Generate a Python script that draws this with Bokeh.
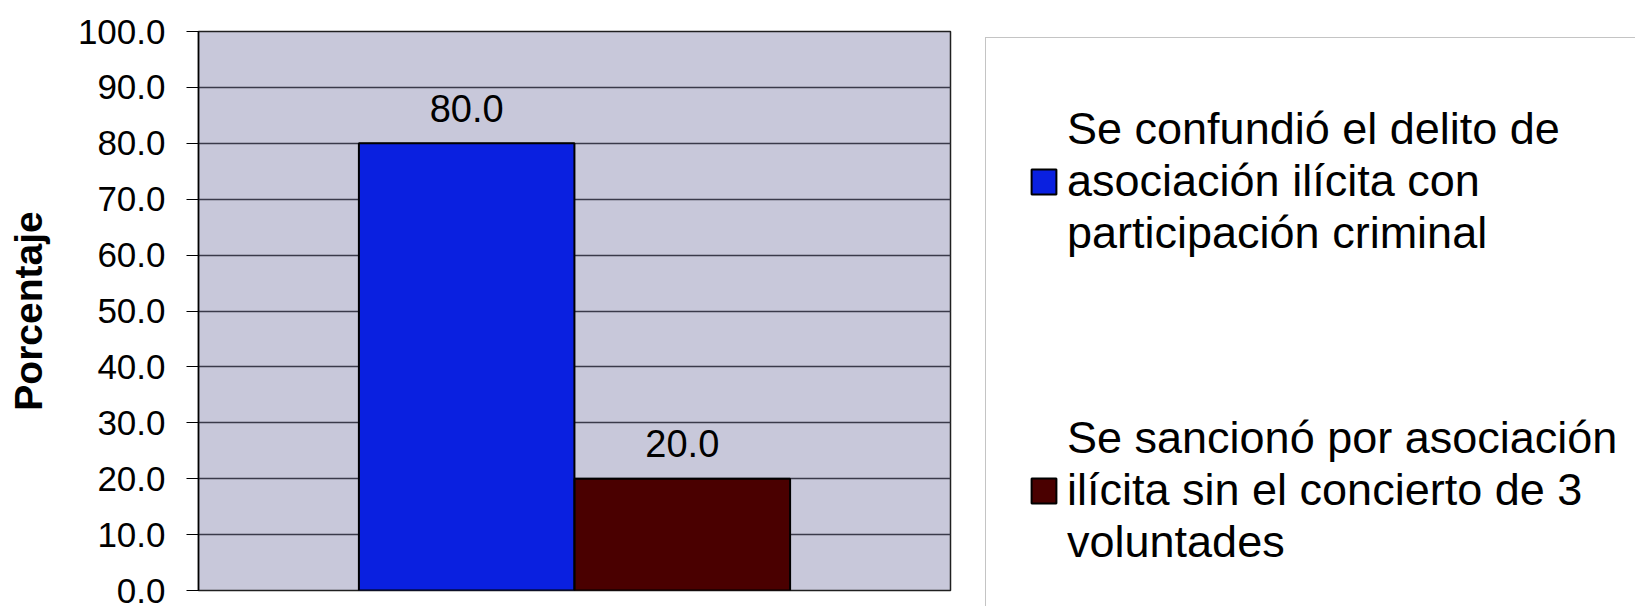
from bokeh.plotting import figure
from bokeh.layouts import row
from bokeh.models import (ColumnDataSource, FactorRange, Range1d, SingleIntervalTicker,
                          NumeralTickFormatter, Legend, LegendItem)
from bokeh.transform import dodge
from bokeh.core.properties import value
from bokeh.embed import file_html
from bokeh.resources import INLINE

# ---- data ----
group = ["Casos"]
series = [
    "Se confundió el delito de\nasociación ilícita con\nparticipación criminal",
    "Se sancionó por asociación\nilícita sin el concierto de 3\nvoluntades",
]
values = [80.0, 20.0]
bar_colors = ["#0a20e0", "#4a0000"]
bar_offsets = [-0.1434, 0.1434]
y_title = "Porcentaje"

FONT = "Liberation Sans"

x_range = FactorRange(factors=group, range_padding=0)
y_range = Range1d(0, 100)

p = figure(width=970, height=606, x_range=x_range, y_range=y_range,
           output_backend="svg", toolbar_location=None,
           min_border_left=198, min_border_right=20,
           min_border_top=31, min_border_bottom=16)
p.frame_align = False

p.background_fill_color = "#c8c8da"
p.border_fill_color = "white"
p.outline_line_color = "#202020"
p.outline_line_width = 1.5

# legend panel (right-hand side)
q = figure(width=665, height=606, x_range=x_range, y_range=y_range,
           output_backend="svg", toolbar_location=None,
           x_axis_type=None, y_axis_type=None,
           min_border_left=0, min_border_right=0,
           min_border_top=0, min_border_bottom=0)
q.frame_align = False
q.background_fill_color = "white"
q.border_fill_color = "white"
q.outline_line_color = None

legend_renderers = []
for name, val, col, off in zip(series, values, bar_colors, bar_offsets):
    src = ColumnDataSource(dict(x=group, top=[val], label=[f"{val:.1f}"]))
    p.vbar(x=dodge("x", off, range=x_range), top="top", width=0.2866,
           source=src, fill_color=col, line_color="black", line_width=2)
    p.text(x=dodge("x", off, range=x_range), y="top", text="label", source=src,
           y_offset=-35, text_align="center", text_baseline="middle",
           text_font=value(FONT), text_font_size="38px", text_color="black")
    lr = q.vbar(x=dodge("x", off, range=x_range), top="top", width=0.2866,
                source=src, fill_color=col, line_color="black", line_width=2,
                visible=False)
    legend_renderers.append(lr)

# axes
p.xaxis.visible = False
p.xgrid.visible = False
p.ygrid.grid_line_color = "#3a3a4a"
p.ygrid.grid_line_width = 1.3

p.yaxis.ticker = SingleIntervalTicker(interval=10)
p.yaxis.formatter = NumeralTickFormatter(format="0.0")
p.yaxis.major_label_text_font = FONT
p.yaxis.major_label_text_font_size = "35px"
p.yaxis.major_label_text_color = "black"
p.yaxis.major_label_standoff = 21
p.yaxis.major_tick_out = 12
p.yaxis.major_tick_in = 0
p.yaxis.major_tick_line_color = "black"
p.yaxis.minor_tick_line_color = None
p.yaxis.axis_line_color = "black"
p.yaxis.axis_line_width = 1.5
p.yaxis.axis_label = y_title
p.yaxis.axis_label_text_font = FONT
p.yaxis.axis_label_text_font_style = "bold"
p.yaxis.axis_label_text_font_size = "39px"
p.yaxis.axis_label_text_color = "black"
p.yaxis.axis_label_standoff = 25

items = [LegendItem(label=s, renderers=[r]) for s, r in zip(series, legend_renderers)]
legend = Legend(items=items, location=(15, -5), padding=42, margin=0,
                title=" ", title_text_font_size="10px", title_standoff=12,
                border_line_color="#8a8a8a", border_line_width=1.5,
                background_fill_color="white", background_fill_alpha=1.0,
                glyph_width=31, glyph_height=31, label_standoff=8, spacing=153,
                label_text_font=FONT, label_text_font_size="45px",
                label_text_color="black",
                click_policy="none")
q.add_layout(legend)

layout = row(p, q)
open("out.html", "w").write(file_html(layout, INLINE))
